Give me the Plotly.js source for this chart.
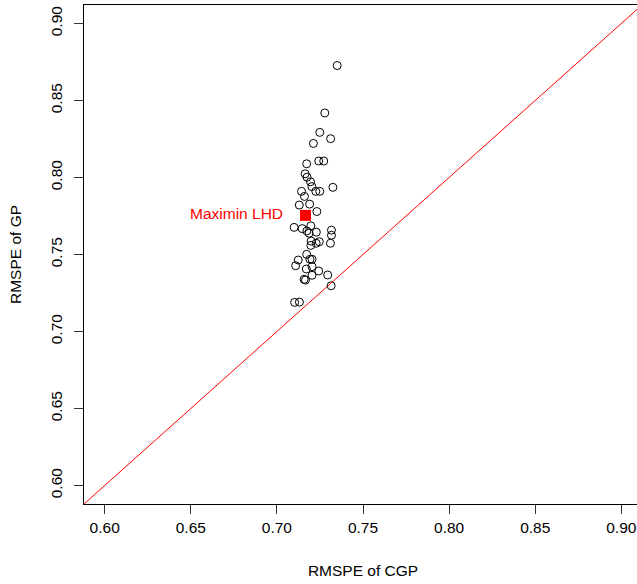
<!DOCTYPE html>
<html>
<head>
<meta charset="utf-8">
<script src="https://cdn.plot.ly/plotly-3.0.1.min.js"></script>
<style>
html,body{margin:0;padding:0;overflow:hidden;background:#fff;}
#chart{width:650px;height:584px;}
</style>
</head>
<body>
<div id="chart"></div>
<script>
// RMSPE of CGP (x) vs RMSPE of GP (y) for random LHDs
const cgpRmspe = [0.7350,0.7278,0.7249,0.7312,0.7212,0.7243,0.7272,0.7173,0.7164,0.7175,
                  0.7195,0.7203,0.7226,0.7249,0.7325,0.7143,0.7160,0.7130,0.7190,0.7232,
                  0.7100,0.7147,0.7174,0.7187,0.7197,0.7229,0.7317,0.7317,0.7311,0.7246,
                  0.7228,0.7199,0.7197,0.7173,0.7192,0.7204,0.7124,0.7109,0.7171,0.7204,
                  0.7204,0.7243,0.7158,0.7166,0.7295,0.7315,0.7103,0.7131];
const gpRmspe  = [0.8727,0.8419,0.8293,0.8252,0.8221,0.8107,0.8107,0.8089,0.8024,0.8002,
                  0.7972,0.7941,0.7910,0.7910,0.7936,0.7910,0.7877,0.7821,0.7827,0.7779,
                  0.7676,0.7668,0.7653,0.7638,0.7686,0.7645,0.7658,0.7625,0.7573,0.7583,
                  0.7573,0.7587,0.7559,0.7501,0.7469,0.7469,0.7464,0.7427,0.7406,0.7421,
                  0.7365,0.7393,0.7339,0.7334,0.7367,0.7297,0.7189,0.7191];
// Maximin LHD result
const maximinCgp = [0.7166];
const maximinGp  = [0.7754];
const maximinLabel = "Maximin LHD";
// axis limits (R default 4% extension of [0.6, 0.9]) and tick values
const axisRange = [0.588, 0.912];
const tickVals = [0.60,0.65,0.70,0.75,0.80,0.85,0.90];
const tickText = ["0.60","0.65","0.70","0.75","0.80","0.85","0.90"];

const font = "Liberation Sans, Arial, Helvetica, sans-serif";

const traces = [
  { // identity line y = x
    x: axisRange, y: axisRange, mode: "lines", type: "scatter",
    line: {color: "#ff0000", width: 1}, hoverinfo: "skip", cliponaxis: true
  },
  {
    x: cgpRmspe, y: gpRmspe, mode: "markers", type: "scatter",
    marker: {symbol: "circle-open", size: 8, color: "#000", line: {width: 1, color: "#000"}}
  },
  {
    x: maximinCgp, y: maximinGp, mode: "markers", type: "scatter",
    marker: {symbol: "square", size: 11, color: "#ff0000", line: {width: 0}}
  }
];

const axisCommon = {
  range: axisRange, tickvals: tickVals, ticktext: tickText,
  showgrid: false, zeroline: false,
  showline: true, mirror: true, linecolor: "#000", linewidth: 1,
  ticks: "outside", ticklen: 9, tickwidth: 1, tickcolor: "#333",
  tickfont: {family: font, size: 15.5, color: "#000"},
  automargin: false
};

const layout = {
  width: 650, height: 584,
  margin: {l: 84, r: 8, t: 5, b: 80},
  paper_bgcolor: "#fff", plot_bgcolor: "#fff",
  showlegend: false,
  font: {family: font, color: "#000"},
  xaxis: Object.assign({}, axisCommon, {
    title: {text: "RMSPE of CGP", font: {family: font, size: 15.5, color: "#000"}, standoff: 30}
  }),
  yaxis: Object.assign({}, axisCommon, {
    tickangle: -90,
    ticklabelstandoff: 6,
    title: {text: "RMSPE of GP", font: {family: font, size: 15.5, color: "#000"}, standoff: 22}
  }),
  annotations: [{
    x: maximinCgp[0], y: maximinGp[0], xref: "x", yref: "y",
    text: maximinLabel, showarrow: false, xanchor: "right", yanchor: "middle",
    xshift: -20, yshift: 2,
    font: {family: font, size: 15.5, color: "#ff0000"}
  }]
};

Plotly.newPlot("chart", traces, layout, {staticPlot: true, displayModeBar: false});
</script>
</body>
</html>
